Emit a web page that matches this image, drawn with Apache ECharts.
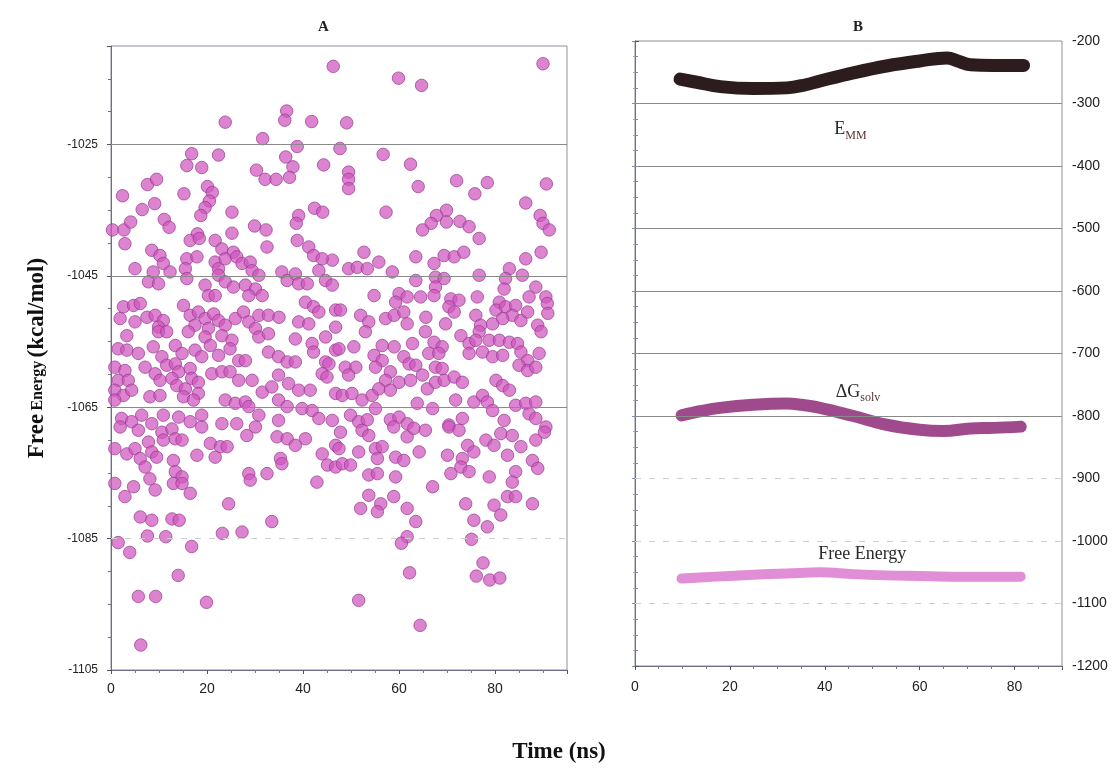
<!DOCTYPE html>
<html>
<head>
<meta charset="utf-8">
<title>Free energy vs time</title>
<script src="https://cdn.jsdelivr.net/npm/echarts@6/dist/echarts.min.js"></script>
<style>
  html, body { margin: 0; padding: 0; background: #ffffff; }
  #chart { width: 1118px; height: 770px; }
</style>
</head>
<body>
<div id="chart"></div>
<script>
// Panel A: free energy snapshots, [time (ns), free energy (kcal/mol)]
const freeEnergyA = [
  [46.3,-1013.1],[90.0,-1012.7],[59.9,-1014.9],[64.7,-1016],[36.6,-1019.9],[36.2,-1021.3],[41.8,-1021.5],[49.1,-1021.7],
  [23.8,-1021.6],[31.6,-1024.1],[38.8,-1025.3],[47.7,-1025.6],[56.7,-1026.5],[16.8,-1026.4],[22.4,-1026.6],[62.4,-1028],
  [15.8,-1028.2],[18.9,-1028.5],[36.4,-1026.9],[37.9,-1028.4],[44.3,-1028.1],[30.3,-1028.9],[32.1,-1030.3],[34.4,-1030.3],
  [37.2,-1030],[49.5,-1029.2],[49.5,-1030.3],[49.5,-1031.7],[72,-1030.5],[78.4,-1030.8],[90.7,-1031],[64,-1031.4],
  [7.6,-1031.1],[9.5,-1030.3],[2.4,-1032.8],[15.2,-1032.5],[20.1,-1031.4],[21.1,-1032.3],[20.5,-1033.6],[19.6,-1034.6],
  [18.7,-1035.8],[75.8,-1032.5],[86.4,-1033.9],[9.1,-1034],[6.5,-1034.9],[25.2,-1035.3],[42.4,-1034.7],[44.1,-1035.3],
  [57.3,-1035.3],[39.1,-1035.8],[38.6,-1037],[69.9,-1035],[67.8,-1035.8],[66.7,-1037],[64.9,-1038],[69.9,-1036.8],
  [72.7,-1036.7],[74.6,-1037.5],[89.4,-1035.8],[90,-1037],[91.3,-1038],[11.1,-1036.4],[12.1,-1037.6],[0.3,-1038],
  [2.7,-1038],[4.1,-1036.8],[29.9,-1037.4],[32.3,-1038],[18,-1038.6],[25.2,-1038.5],
  [2.9,-1040.1],[16.5,-1039.6],[18.4,-1039.3],[21.7,-1039.6],[23.1,-1040.9],[25.5,-1041.4],[32.5,-1040.6],[38.8,-1039.6],
  [41.2,-1040.6],[42.2,-1041.9],[46.1,-1042.6],[8.5,-1041.1],[10.2,-1041.9],[10.9,-1043.1],[15.8,-1042.4],[17.9,-1042.1],
  [15.5,-1043.9],[21.7,-1042.9],[22.4,-1043.9],[23.8,-1042.4],[26.2,-1042.1],[27.3,-1043.1],[29,-1042.9],[29.4,-1044.2],
  [5,-1043.9],[8.8,-1044.4],[12.3,-1044.4],[7.8,-1045.9],[9.9,-1046.2],[15.8,-1045.4],[22.4,-1044.9],[23.8,-1045.9],
  [25.5,-1046.7],[19.6,-1046.4],[20.3,-1048],[21.7,-1048],[28,-1046.4],[30.1,-1047],[30.8,-1044.9],[31.5,-1048],
  [28.7,-1048],[35.6,-1044.4],[36.7,-1045.7],[38.4,-1044.7],[39.1,-1046.2],[40.9,-1046.2],[43.3,-1044.2],[44.7,-1045.7],
  [46.1,-1046.4],[44,-1042.4],[2.6,-1049.7],[4.7,-1049.5],[6.1,-1049.2],[1.9,-1051.5],[5,-1052],[7.5,-1051.3],
  [9.2,-1051],[10.9,-1051.8],[9.9,-1052.8],[15.1,-1049.5],[16.5,-1051],[18.2,-1050.5],[19.6,-1051.5],[21.4,-1050.8],
  [22.4,-1051.8],[17.5,-1052.5],[20.3,-1053],[23.8,-1052.5],[25.9,-1051.5],[27.6,-1050.5],[28.7,-1052],[30.8,-1051],
  [32.8,-1051],[35,-1051.3],[30.1,-1053],[40.5,-1049],[42.2,-1049.7],[43.3,-1050.5],[39.1,-1052],[41.2,-1052.3],
  [46.8,-1050.2],[46.8,-1052.8],
  [76.7,-1039.3],[52.7,-1041.4],[55.8,-1042.9],[49.5,-1043.9],[51.3,-1043.7],[53.4,-1043.9],[58.6,-1044.4],[63.5,-1042.1],
  [67.3,-1043.1],[69.4,-1041.9],[71.5,-1042.1],[73.5,-1041.4],[86.4,-1042.4],[89.6,-1041.4],[83,-1043.9],[85.7,-1044.9],
  [76.7,-1044.9],[67.6,-1045.2],[69.4,-1045.4],[63.5,-1045.7],[67.6,-1046.7],[67.3,-1048],[82.2,-1045.4],[81.9,-1047],
  [88.5,-1046.7],[87.1,-1048.2],[90.6,-1048.2],[90.9,-1049.2],[54.8,-1048],[60,-1047.7],[61.7,-1048.2],[64.5,-1048.2],
  [59.3,-1049],[70.8,-1048.5],[72.5,-1048.7],[70.4,-1049.7],[71.5,-1050.5],[76.3,-1048.2],[80.9,-1049],[80.2,-1050.2],
  [82.2,-1049.7],[84.3,-1049.5],[83.6,-1051],[81.6,-1051.5],[85.4,-1051.8],[86.8,-1050.5],[88.9,-1052.5],[91,-1050.7],
  [47.8,-1050.2],[52,-1051],[53.7,-1052],[57.2,-1051.5],[59,-1051],[61,-1050.5],[61.7,-1052.3],[65.6,-1051.3],
  [69.7,-1052.3],[76,-1051],[77,-1052.5],[79.5,-1052.3],
  [3.3,-1054.1],[9.9,-1053.5],[11.6,-1053.5],[16.1,-1053.5],[19.6,-1054.3],[23.1,-1054.1],[25.2,-1054.8],[30.8,-1054.3],
  [32.8,-1053.8],[38.4,-1054.6],[41.9,-1055.3],[44.7,-1054.3],[1.5,-1056.1],[3.3,-1056.3],[5.7,-1056.8],[8.8,-1055.8],
  [10.6,-1057.3],[13.4,-1055.6],[14.8,-1056.8],[17.5,-1056.3],[18.9,-1057.3],[20.7,-1055.6],[22.4,-1057.1],[24.8,-1056.1],
  [26.6,-1057.9],[28,-1057.9],[32.8,-1056.6],[34.9,-1057.3],[36.7,-1058.1],[38.4,-1058.1],[42.2,-1056.6],[44.7,-1058.1],
  [46.8,-1056.3],[0.8,-1058.9],[2.9,-1059.4],[1.5,-1060.9],[3.6,-1060.9],[0.8,-1062.4],[2.6,-1063.2],[4.3,-1062.4],
  [0.8,-1063.9],[7.1,-1058.9],[9.2,-1059.9],[11.6,-1058.6],[13.4,-1058.4],[14.1,-1059.6],[10.2,-1060.9],[12.7,-1060.6],
  [13.7,-1061.7],[15.5,-1062.2],[16.5,-1059.1],[16.8,-1060.6],[18.2,-1061.2],[18.2,-1062.9],[21,-1059.9],[23.1,-1059.6],
  [24.8,-1059.6],[26.6,-1060.9],[29.4,-1060.9],[31.5,-1062.7],[33.5,-1061.9],[34.9,-1060.1],[37,-1061.4],[39.1,-1062.4],
  [41.5,-1062.4],[44,-1059.9],[45.4,-1058.4],[45,-1060.4],[46.8,-1062.9],[8.1,-1063.4],[10.2,-1063.2],[15.1,-1063.4],
  [17.2,-1063.9],[23.8,-1063.9],[25.9,-1064.4],[28,-1064.2],[28.7,-1064.9],[34.9,-1063.9],[36.7,-1064.9],[39.8,-1065.2],
  [41.9,-1065.5],[2.2,-1066.7],[4.3,-1067.2],[6.4,-1066.2],[8.5,-1067.5],[10.9,-1066.2],[14.1,-1066.5],[16.5,-1067.2],
  [18.9,-1066.2],[23.1,-1067.5],[26.2,-1067.5],[30.8,-1066.2],[34.9,-1067],[43.3,-1066.7],[46.1,-1067],
  [53,-1053.5],[65.5,-1053.5],[72.9,-1054.1],[76.7,-1053.5],[89.6,-1053.5],[47.5,-1056.1],[50.6,-1055.8],[56.5,-1055.6],
  [59,-1055.8],[62.8,-1055.3],[67.3,-1055.1],[69,-1055.8],[66.2,-1056.8],[68.3,-1056.8],[74.6,-1055.3],[76,-1054.8],
  [78.8,-1054.8],[80.9,-1054.8],[83,-1055.1],[84.7,-1055.3],[74.6,-1056.8],[77.4,-1056.6],[79.5,-1057.3],[81.6,-1057.1],
  [85.4,-1056.6],[86.8,-1057.9],[89.2,-1056.8],[54.8,-1057.1],[56.5,-1057.9],[61,-1057.3],[62.1,-1058.4],[63.5,-1058.6],
  [67.6,-1058.9],[69,-1059.1],[48.8,-1058.9],[51,-1058.9],[49.5,-1060.1],[55.1,-1058.9],[58.2,-1059.6],[57.2,-1060.9],
  [60,-1061.2],[62.4,-1060.9],[64.9,-1060.1],[65.9,-1062.2],[67.6,-1061.2],[69.4,-1060.9],[71.5,-1060.4],[73.2,-1061.2],
  [80.2,-1060.9],[81.6,-1061.7],[83,-1062.4],[85,-1058.6],[86.8,-1059.4],[88.5,-1058.9],[48.2,-1063.2],[50.2,-1062.9],
  [52.3,-1063.9],[54.4,-1063.2],[55.8,-1062.2],[58.2,-1062.4],[63.8,-1064.4],[67,-1065.2],[71.8,-1063.9],[75.6,-1064.2],
  [77.4,-1063.2],[78.4,-1064.2],[79.5,-1065.5],[84.3,-1064.7],[86.4,-1064.4],[88.5,-1064.2],[87.1,-1066],[55.1,-1065.2],
  [49.9,-1066.2],[51.6,-1067.2],[53.4,-1066.9],[58.2,-1066.9],[60,-1066.5],[61.7,-1067.5],[70.4,-1067.7],[73.2,-1066.7],
  [81.9,-1067],[88.5,-1066.7],[90.6,-1068],
  [1.9,-1068],[5.7,-1068.5],[10.6,-1068.8],[12.7,-1068.3],[18.9,-1068],[28.3,-1069.3],[30.1,-1068],[34.6,-1069.5],
  [36.7,-1069.8],[40.5,-1069.8],[38.4,-1070.8],[46.8,-1070.8],[0.8,-1071.3],[3.3,-1072.1],[5,-1071.3],[6.1,-1072.8],
  [7.8,-1070.3],[8.5,-1071.8],[9.5,-1072.6],[10.9,-1070],[13.4,-1069.8],[14.8,-1070],[7.1,-1074.1],[13,-1073.1],
  [13.4,-1074.8],[14.8,-1075.6],[13,-1076.6],[14.8,-1076.6],[17.9,-1072.3],[20.7,-1070.5],[22.8,-1071],[24.2,-1071],
  [21.7,-1072.6],[35.3,-1072.8],[35.6,-1073.6],[44,-1072.1],[45.1,-1073.8],[46.8,-1074.1],[0.8,-1076.6],[4.7,-1077.1],
  [8.1,-1075.9],[9.2,-1077.6],[2.9,-1078.6],[16.5,-1078.1],[28.7,-1075.1],[29,-1076.1],[32.5,-1075.1],[42.9,-1076.4],
  [24.5,-1079.7],[6.1,-1081.7],[8.5,-1082.2],[12.7,-1082],[33.5,-1082.4],
  [47.8,-1068.8],[52.3,-1068.5],[53.7,-1069.3],[58.9,-1068],[61.7,-1069.5],[63.1,-1068.2],[65.5,-1068.5],[70.4,-1068],
  [72.5,-1068.5],[78.1,-1070],[79.8,-1070.8],[81.2,-1069],[83.6,-1069.3],[85.4,-1071],[88.5,-1070],[90.3,-1068.8],
  [47.5,-1071.3],[48.2,-1073.6],[49.9,-1073.8],[51.6,-1071.8],[55.1,-1071.3],[56.5,-1071],[55.5,-1072.8],[53.7,-1075.3],
  [55.5,-1075.1],[59.3,-1072.6],[61,-1073.1],[64.2,-1071.8],[59.3,-1075.6],[67,-1077.1],[70.1,-1072.3],[70.8,-1075.1],
  [73.2,-1072.8],[74.3,-1070.8],[75.6,-1071.8],[72.9,-1074.1],[74.6,-1074.8],[78.8,-1075.6],[82.6,-1072.3],[84.3,-1074.8],
  [83.6,-1076.4],[87.8,-1073.1],[88.9,-1074.3],[53.7,-1078.4],[56.2,-1079.7],[58.9,-1078.6],[52,-1080.4],[55.5,-1080.9],
  [61.7,-1080.4],[63.5,-1082.4],[73.9,-1079.7],[75.6,-1082.2],[79.8,-1079.9],[81.2,-1081.4],[82.6,-1078.6],[84.3,-1078.6],
  [87.8,-1079.7],
  [7.6,-1084.6],[11.4,-1084.7],[14.2,-1082.2],[1.5,-1085.6],[3.9,-1087.1],[16.8,-1086.2],[14,-1090.6],[5.7,-1093.8],
  [9.3,-1093.8],[19.9,-1094.7],[6.2,-1101.2],[23.2,-1084.2],[27.3,-1084],[51.6,-1094.4],[61.7,-1084.7],[60.5,-1085.7],
  [62.2,-1090.2],[64.4,-1098.2],[75.1,-1085.1],[78.4,-1083.2],[77.5,-1088.7],[76.1,-1090.7],[78.9,-1091.3],[81,-1091]
];

// Panel B: running averages of the energy components, [time (ns), kcal/mol]
const emmCurve = [
  [9.5,-261],[13,-266],[18,-273],[25,-276],[32,-275],[36,-270],[39,-264],[46,-251],
  [53,-240],[60,-232],[65.8,-227],[68,-232],[70.7,-238],[75.6,-239],[81.9,-239]
];
const dgSolvCurve = [
  [9.8,-799],[14,-792],[17.9,-787],[24.9,-782],[32,-780],[35,-782],[39,-787],[46,-800],
  [53,-814],[60,-822],[65,-824],[70.7,-820],[75.6,-819],[81.3,-817]
];
const freeEnergyCurve = [
  [9.8,-1060],[17,-1057],[24.9,-1054],[32,-1052],[39,-1050],[46,-1053],[53,-1055],
  [60,-1056],[67,-1057],[74,-1057],[81.3,-1057]
];

// Curve captions: [time, energy] anchor and rich-text label
const captionsB = [
  { at: [45.4, -342], text: '{main|E}{sub|MM}' },
  { at: [47, -762], text: '{main|ΔG}{sub|solv}' },
  { at: [47.9, -1022], text: '{main|Free Energy}' }
];

// Horizontal reference lines
const gridA = { solid: [-1025, -1045, -1065], dashed: [-1085] };
const gridB = { solid: [-300, -400, -500, -600, -700, -800], dashed: [-900, -1000, -1100] };

const serif = '"Liberation Serif", "DejaVu Serif", serif';
const sans = '"Liberation Sans", Arial, sans-serif';
const plain = v => String(v);

function refLines(g) {
  return {
    silent: true,
    symbol: 'none',
    label: { show: false },
    animation: false,
    data: g.solid.map(v => ({ yAxis: v, lineStyle: { color: '#8a8a8a', width: 1, type: 'solid' } }))
      .concat(g.dashed.map(v => ({ yAxis: v, lineStyle: { color: '#d0d0d0', width: 1, type: [6, 8] } })))
  };
}

const chart = echarts.init(document.getElementById('chart'), null, { renderer: 'canvas' });

const axisLine = { show: true, lineStyle: { color: '#6d6d8a', width: 1 } };

chart.setOption({
  animation: false,
  backgroundColor: '#ffffff',
  title: [
    { text: 'A', left: 313, top: 15, textStyle: { fontFamily: serif, fontWeight: 'bold', fontSize: 15, color: '#222' } },
    { text: 'B', left: 848, top: 15, textStyle: { fontFamily: serif, fontWeight: 'bold', fontSize: 15, color: '#222' } },
    { text: 'Time (ns)', left: 'center', top: 736, textStyle: { fontFamily: serif, fontWeight: 'bold', fontSize: 23, color: '#111' } }
  ],
  grid: [
    { left: 111, top: 46, width: 456, height: 624, show: true, borderColor: '#8f8f9f', borderWidth: 1, backgroundColor: 'transparent' },
    { left: 635, top: 41, width: 427, height: 625, show: true, borderColor: '#8f8f9f', borderWidth: 1, backgroundColor: 'transparent' }
  ],
  xAxis: [
    {
      gridIndex: 0, type: 'value', min: 0, max: 95, interval: 20,
      axisLine: axisLine,
      axisTick: { show: true, inside: false, length: 4, lineStyle: { color: '#555' } },
      minorTick: { show: true, splitNumber: 4, length: 3, lineStyle: { color: '#777' } },
      axisLabel: { fontFamily: sans, fontSize: 14, color: '#222', margin: 12, showMaxLabel: false, formatter: plain },
      splitLine: { show: false }
    },
    {
      gridIndex: 1, type: 'value', min: 0, max: 90, interval: 20,
      axisLine: axisLine,
      axisTick: { show: true, inside: false, length: 4, lineStyle: { color: '#555' } },
      minorTick: { show: true, splitNumber: 4, length: 3, lineStyle: { color: '#777' } },
      axisLabel: { fontFamily: sans, fontSize: 14, color: '#222', margin: 14, showMaxLabel: false, formatter: plain },
      splitLine: { show: false }
    }
  ],
  yAxis: [
    {
      gridIndex: 0, type: 'value', min: -1105, max: -1010, interval: 20,
      axisLine: axisLine,
      axisTick: { show: true, length: 4, lineStyle: { color: '#555' } },
      minorTick: { show: true, splitNumber: 4, length: 3, lineStyle: { color: '#777' } },
      axisLabel: { fontFamily: sans, fontSize: 12, color: '#222', margin: 13, showMaxLabel: false, formatter: plain },
      splitLine: { show: false },
      name: '{big|Free} {small|Energy} {big|(kcal/mol)}',
      nameLocation: 'middle', nameRotate: 90, nameGap: 62,
      nameTextStyle: {
        rich: {
          big: { fontFamily: serif, fontWeight: 'bold', fontSize: 23, color: '#111' },
          small: { fontFamily: serif, fontWeight: 'bold', fontSize: 16, color: '#111' }
        }
      }
    },
    {
      gridIndex: 1, type: 'value', min: -1200, max: -200, interval: 100, position: 'right',
      axisLine: axisLine,
      axisTick: { show: true, length: 4, lineStyle: { color: '#555' } },
      minorTick: { show: true, splitNumber: 4, length: 3, lineStyle: { color: '#888' } },
      axisLabel: { fontFamily: sans, fontSize: 14, color: '#222', margin: 10, formatter: plain },
      splitLine: { show: false }
    },
    {
      gridIndex: 1, type: 'value', min: -1200, max: -200, interval: 100, position: 'left',
      axisLine: axisLine,
      axisTick: { show: true, length: 3, lineStyle: { color: '#7a8fb0' } },
      minorTick: { show: true, splitNumber: 4, length: 2, lineStyle: { color: '#9aaccc' } },
      axisLabel: { show: false },
      splitLine: { show: false }
    }
  ],
  series: [
    {
      type: 'scatter', xAxisIndex: 0, yAxisIndex: 0,
      data: freeEnergyA,
      symbol: 'circle', symbolSize: 12.5,
      itemStyle: { color: 'rgba(208, 84, 190, 0.9)', borderColor: 'rgba(150, 58, 145, 0.9)', borderWidth: 1 },
      markLine: refLines(gridA),
      z: 3
    },
    {
      type: 'line', xAxisIndex: 1, yAxisIndex: 1,
      data: freeEnergyCurve, smooth: 0.4, showSymbol: false,
      lineStyle: { color: '#e08fd6', width: 10, cap: 'round', join: 'round' },
      markLine: refLines(gridB),
      markPoint: {
        symbol: 'circle', symbolSize: 0, silent: true,
        label: {
          show: true, position: 'inside', color: '#2a2a2a',
          rich: {
            main: { fontFamily: serif, fontSize: 18, color: '#2a2a2a' },
            sub: { fontFamily: serif, fontSize: 12, color: '#5a3434', verticalAlign: 'bottom', padding: [12, 0, 0, 0] }
          },
          formatter: p => p.data.text
        },
        data: captionsB.map(c => ({ coord: c.at, text: c.text }))
      },
      z: 3
    },
    {
      type: 'line', xAxisIndex: 1, yAxisIndex: 1,
      data: dgSolvCurve, smooth: 0.4, showSymbol: false,
      lineStyle: { color: '#a04a8e', width: 12, cap: 'round', join: 'round' },
      z: 3
    },
    {
      type: 'line', xAxisIndex: 1, yAxisIndex: 1,
      data: emmCurve, smooth: 0.4, showSymbol: false,
      lineStyle: { color: '#2c1c1e', width: 13, cap: 'round', join: 'round' },
      z: 3
    }
  ]
});
</script>
</body>
</html>
